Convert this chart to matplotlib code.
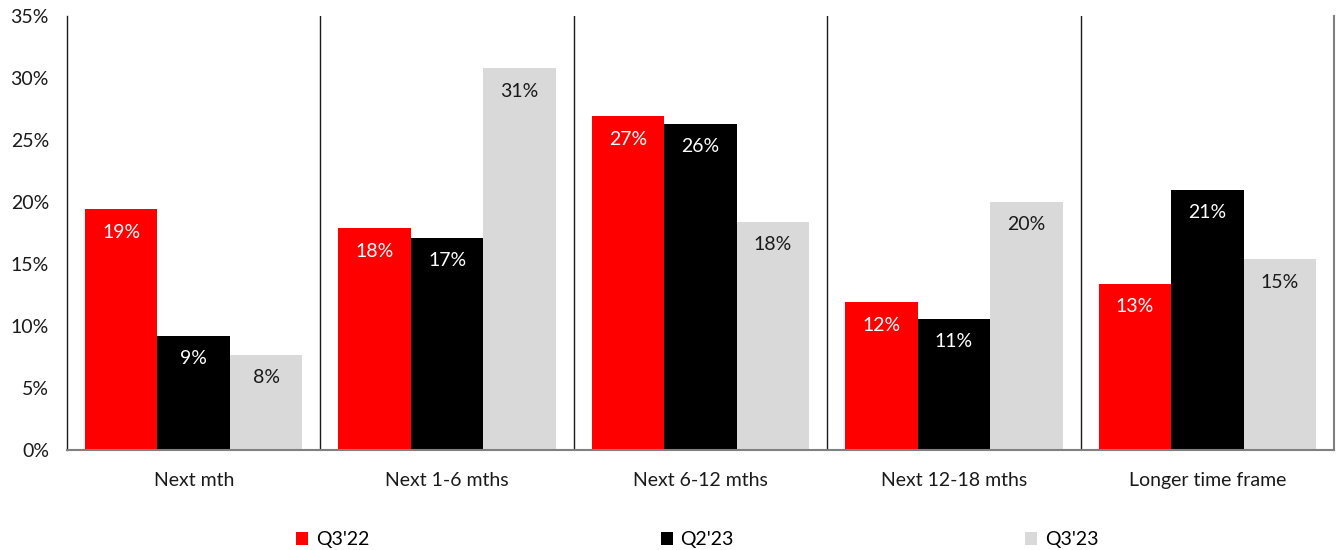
import matplotlib
matplotlib.use("Agg")
import matplotlib.pyplot as plt
import numpy as np

categories = ["Next mth", "Next 1-6 mths", "Next 6-12 mths", "Next 12-18 mths", "Longer time frame"]
series_names = ["Q3'22", "Q2'23", "Q3'23"]
q3_22 = [19.4, 17.9, 26.9, 11.9, 13.4]
q2_23 = [9.2, 17.1, 26.3, 10.6, 21.0]
q3_23 = [7.7, 30.8, 18.4, 20.0, 15.4]
yticks = [0, 5, 10, 15, 20, 25, 30, 35]

colors = ["#FF0000", "#000000", "#D9D9D9"]
text_colors = ["white", "white", "#1a1a1a"]

plt.rcParams['font.family'] = ['Lato', 'DejaVu Sans']

fig = plt.figure(figsize=(13.38, 5.5), dpi=100)
ax = fig.add_axes([67/1338, 1-450/550, (1334-67)/1338, (450-16)/550])

n = len(categories)
x = np.arange(n)
w = 0.286
data = [q3_22, q2_23, q3_23]
handles = []
for i, (vals, c, tc, name) in enumerate(zip(data, colors, text_colors, series_names)):
    pos = x + (i - 1) * w
    b = ax.bar(pos, vals, width=w, color=c, label=name, zorder=2)
    handles.append(b)
    for p, v in zip(pos, vals):
        ax.annotate(f"{round(v):.0f}%", (p, v), xytext=(0, -23), textcoords="offset pixels",
                    ha="center", va="center", color=tc, fontsize=14, zorder=3)

ax.set_xlim(-0.5, n - 0.5)
ax.set_ylim(0, 35)
ax.set_yticks(yticks)
ax.set_yticklabels([f"{t}%" for t in yticks])
ax.set_xticks(x)
ax.set_xticklabels(categories)
ax.tick_params(axis='both', length=0, labelsize=14, colors='#1a1a1a')
ax.tick_params(axis='y', pad=13)
ax.tick_params(axis='x', pad=15.5)

for s in range(1, n):
    ax.axvline(s - 0.5, color='#1a1a1a', lw=1.0, zorder=1)

ax.spines['top'].set_visible(False)
ax.spines['left'].set_color('#1a1a1a')
ax.spines['left'].set_linewidth(1.0)
ax.spines['right'].set_color('#808080')
ax.spines['right'].set_linewidth(1.5)
ax.spines['bottom'].set_color('#808080')
ax.spines['bottom'].set_linewidth(1.5)

fig.legend(handles=handles, labels=series_names, loc='center', bbox_to_anchor=(0.5212, 1-540/550),
           ncol=3, frameon=False, fontsize=14, handlelength=0.6, handleheight=0.6,
           handletextpad=0.4, columnspacing=15.0)

fig.savefig("out.png", dpi=100)
